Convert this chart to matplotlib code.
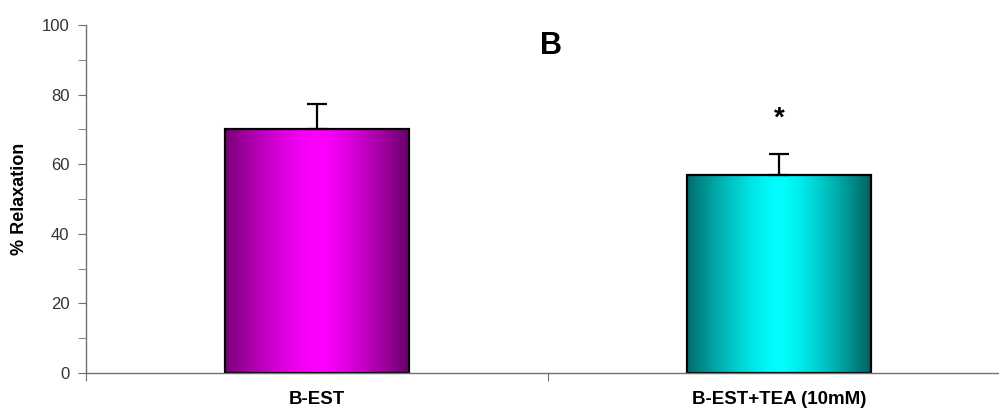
import numpy as np
import matplotlib
matplotlib.use("Agg")
import matplotlib.pyplot as plt
from matplotlib import font_manager
from matplotlib.colors import to_rgb

categories = ["B-EST", "B-EST+TEA (10mM)"]
values = [70.0, 57.0]
errors = [7.2, 5.9]
# edge-left, centre, edge-right colours of each bar's shading
bar_shades = [("#780078", "#ff00ff", "#640064"),
              ("#006c6c", "#00ffff", "#005e5e")]

names = {f.name for f in font_manager.fontManager.ttflist}
narrow = "Liberation Sans Narrow" if "Liberation Sans Narrow" in names else "Liberation Sans"
plt.rcParams['font.family'] = ["Liberation Sans", "DejaVu Sans"]

fig = plt.figure(figsize=(9.99, 4.18), dpi=100)
ax = fig.add_axes([86 / 999, 45 / 418, 924 / 999, 348 / 418])

width = 0.4
x = np.arange(len(categories))
for xi, val, err, shade in zip(x, values, errors, bar_shades):
    left, mid, right = [np.array(to_rgb(c)) for c in shade]
    t = np.linspace(0, 1, 300)
    grad = np.empty((1, len(t), 3))
    for k, tt in enumerate(t):
        if tt < 0.5:
            w = 1 - (1 - tt / 0.5) ** 1.4
            grad[0, k] = left + (mid - left) * w
        else:
            w = ((tt - 0.5) / 0.5) ** 1.4
            grad[0, k] = mid + (right - mid) * w
    ax.imshow(grad, extent=(xi - width / 2, xi + width / 2, 0, val),
              aspect='auto', interpolation='bilinear', zorder=1)
    ax.bar(xi, val, width=width, facecolor='none', edgecolor='black',
           linewidth=1.6, zorder=2)
    ax.errorbar(xi, val, yerr=[[0], [err]], fmt='none', ecolor='black',
                elinewidth=1.6, capsize=7, capthick=1.6, zorder=3)

ax.set_xlim(-0.5, 1.5)
ax.set_ylim(0, 100)

for s in ['top', 'right']:
    ax.spines[s].set_visible(False)
for s in ['left', 'bottom']:
    ax.spines[s].set_color('#707070')
    ax.spines[s].set_linewidth(1.0)

ax.set_yticks(np.arange(0, 101, 20))
ax.set_yticks(np.arange(10, 100, 20), minor=True)
ax.tick_params(axis='y', which='both', direction='out', length=6,
               color='#707070', labelcolor='#333333', pad=6)
for lab in ax.get_yticklabels():
    lab.set_fontfamily(narrow)
    lab.set_fontsize(12)

ax.set_xticks([-0.5, 0.5, 1.5])
ax.set_xticklabels([])
ax.tick_params(axis='x', which='major', direction='out', length=6, color='#707070')
ax.set_xticks(x, minor=True)
ax.set_xticklabels(categories, minor=True, fontsize=13.5, fontweight='bold')
ax.tick_params(axis='x', which='minor', length=0, pad=13)

ax.set_ylabel("% Relaxation", fontsize=13, fontweight='bold', labelpad=10)

ax.text(0.506, 94, "B", fontsize=22, fontweight='bold', ha='center', va='center')
ax.text(1.0, 73, "*", fontsize=20, fontweight='bold', ha='center', va='center')

fig.savefig("out.png", dpi=100)
